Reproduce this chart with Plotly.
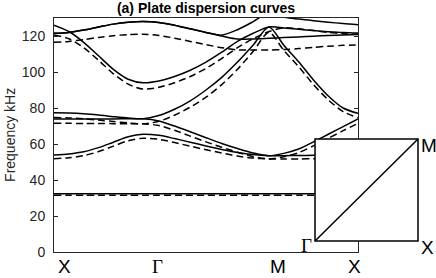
import plotly.graph_objects as go

# path coordinate: X -> Gamma -> M -> X  (|XG| = 1, |GM| = sqrt2, |MX| = 1)
k = [0.0, 0.1667, 0.3333, 0.5, 0.6667, 0.8333, 1.0,
     1.1768, 1.3536, 1.5303, 1.7071, 1.8839, 2.0607, 2.2374, 2.4142,
     2.5809, 2.7475, 2.9142, 3.0809, 3.2475, 3.4142]

# solid curves (kHz)
s1 = [32.3, 32.3, 32.3, 32.3, 32.3, 32.3, 32.3, 32.3, 32.3, 32.3, 32.3,
      32.3, 32.3, 32.3, 32.3, 32.3, 32.3, 32.3, 32.3, 32.3, 32.3]
s2 = [53.9, 54.5, 55.7, 58.0, 61.0, 64.0, 65.4, 64.8, 63.0, 61.0, 58.9,
      57.0, 55.3, 54.1, 53.5, 53.5, 53.6, 53.7, 53.8, 53.9, 53.9]
s3 = [73.9, 73.9, 73.9, 73.9, 73.95, 74.0, 74.0, 72.8, 70.0, 66.8, 63.5,
      60.3, 57.5, 55.0, 53.5, 54.8, 57.2, 61.2, 65.4, 69.7, 73.9]
s4 = [77.3, 77.2, 76.8, 76.1, 75.2, 74.4, 74.0, 75.8, 79.3, 84.0, 90.0,
      97.0, 105.5, 115.0, 125.0, 114.9, 105.7, 95.6, 86.7, 80.0, 77.0]
s5 = [126.0, 122.5, 116.5, 109.0, 101.5, 96.0, 94.0, 95.0, 97.5, 101.0, 105.5,
      111.0, 117.0, 121.5, 125.0, 124.5, 123.7, 123.0, 122.4, 121.9, 121.6]
s6 = [121.5, 122.0, 123.3, 125.0, 126.6, 127.6, 128.0, 127.5, 126.0, 124.0, 122.0,
      120.5, 123.5, 128.0, 133.0, 130.5, 129.4, 128.5, 127.7, 126.9, 126.3]
s7 = [121.5, 122.0, 123.3, 125.0, 126.6, 127.6, 128.0, 127.5, 126.0, 124.0, 122.0,
      120.0, 118.3, 118.4, 118.7, 119.1, 119.5, 119.9, 120.3, 120.6, 120.9]

# dashed curves (kHz)
d1 = [31.5, 31.5, 31.5, 31.5, 31.5, 31.5, 31.5, 31.5, 31.5, 31.5, 31.5,
      31.5, 31.5, 31.5, 31.5, 31.5, 31.5, 31.5, 31.5, 31.5, 31.5]
d2 = [51.8, 52.4, 53.5, 55.8, 58.8, 61.8, 63.2, 62.6, 60.8, 58.8, 56.8,
      55.0, 53.3, 52.2, 51.7, 51.7, 51.7, 51.8, 51.8, 51.8, 51.8]
d3 = [71.5, 71.5, 71.4, 71.4, 71.3, 71.2, 71.2, 70.3, 67.6, 64.4, 61.2,
      58.2, 55.4, 53.0, 51.7, 52.9, 55.2, 59.0, 63.2, 67.4, 71.5]
d4 = [74.7, 74.5, 74.0, 73.3, 72.5, 71.7, 71.2, 72.6, 76.0, 80.5, 86.0,
      93.0, 101.5, 111.5, 122.0, 112.0, 103.0, 93.0, 84.5, 78.0, 74.6]
d5 = [120.5, 118.5, 113.5, 106.5, 99.0, 93.3, 90.5, 91.5, 94.0, 97.5, 102.0,
      107.5, 113.5, 118.5, 122.5, 124.5, 124.0, 123.0, 122.0, 121.3, 121.0]
d6 = [116.5, 117.0, 118.0, 119.2, 120.2, 120.8, 121.0, 120.3, 118.8, 117.0, 115.2,
      113.5, 112.3, 112.2, 112.2, 112.5, 113.0, 113.7, 114.3, 114.8, 115.0]

solid = [s1, s2, s3, s4, s5, s6, s7]
dashed = [d1, d2, d3, d4, d5, d6]

path_labels = ["X", "Γ", "M", "X"]
path_label_x = [0.036, 0.339, 0.737, 0.990]

yticks = [0, 20, 40, 60, 80, 100, 120]

fig = go.Figure()
for b in dashed:
    fig.add_trace(go.Scatter(x=k, y=b, mode="lines",
                             line=dict(color="black", width=1.5, dash="7px,4px",
                                       shape="spline", smoothing=0.8),
                             showlegend=False, hoverinfo="skip"))
for b in solid:
    fig.add_trace(go.Scatter(x=k, y=b, mode="lines",
                             line=dict(color="black", width=1.5,
                                       shape="spline", smoothing=0.8),
                             showlegend=False, hoverinfo="skip"))

fig.update_layout(
    width=436, height=278,
    margin=dict(l=54, r=78, t=18, b=26),
    paper_bgcolor="white", plot_bgcolor="white",
    font=dict(family="Liberation Sans, Arial, sans-serif", size=14, color="#262626"),
    title=dict(text="<b>(a) Plate dispersion curves</b>", x=0.4725, xanchor="center",
               xref="container", yref="container", y=0.972, yanchor="middle",
               font=dict(size=14, color="black")),
)
fig.update_xaxes(range=[0, 3.4142], showgrid=False, zeroline=False,
                 showline=True, linecolor="#262626", linewidth=1, mirror=True,
                 ticks="", showticklabels=False)
fig.update_yaxes(range=[0, 130], showgrid=False, zeroline=False,
                 showline=True, linecolor="#262626", linewidth=1, mirror="ticks",
                 ticks="inside", ticklen=4, tickcolor="#262626",
                 ticklabelstandoff=5,
                 tickvals=yticks, tickfont=dict(size=14, color="#262626"))

ann = []
for lab, xp in zip(path_labels, path_label_x):
    fam = "Liberation Serif, serif" if lab == "Γ" else "Liberation Sans, Arial, sans-serif"
    ann.append(dict(text=lab, x=xp, y=-0.064, xref="paper", yref="paper",
                    showarrow=False, xanchor="center", yanchor="middle",
                    font=dict(size=19, color="black", family=fam)))
ann.append(dict(text="Frequency kHz", x=-0.145, y=0.5, xref="paper", yref="paper",
                showarrow=False, textangle=-90, xanchor="center", yanchor="middle",
                font=dict(size=14, color="#262626")))
# inset labels
ann.append(dict(text="Γ", x=0.829, y=0.026, xref="paper", yref="paper", showarrow=False,
                xanchor="center", yanchor="middle",
                font=dict(size=19, color="black", family="Liberation Serif, serif")))
ann.append(dict(text="X", x=1.227, y=0.021, xref="paper", yref="paper", showarrow=False,
                xanchor="center", yanchor="middle", font=dict(size=19, color="black")))
ann.append(dict(text="M", x=1.232, y=0.457, xref="paper", yref="paper", showarrow=False,
                xanchor="center", yanchor="middle", font=dict(size=19, color="black")))
fig.update_layout(annotations=ann)

fig.update_layout(shapes=[
    dict(type="rect", xref="paper", yref="paper", x0=0.8586, x1=1.1974, y0=0.047, y1=0.4829,
         fillcolor="white", line=dict(color="black", width=1.5), layer="above"),
    dict(type="line", xref="paper", yref="paper", x0=0.8586, x1=1.1974, y0=0.047, y1=0.4829,
         line=dict(color="black", width=1.5), layer="above"),
])

fig.write_html("out.html", config={"displayModeBar": False, "staticPlot": True},
               post_script="document.body.style.margin='0';document.body.style.overflow='hidden';")
